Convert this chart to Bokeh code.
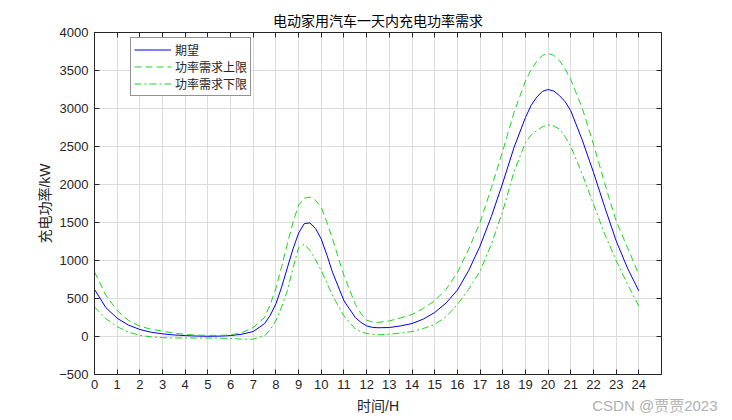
from bokeh.plotting import figure
from bokeh.models import (Range1d, LinearAxis, FixedTicker, Legend, LegendItem, Title,
                          CustomLabelingPolicy)
from bokeh.embed import file_html
from bokeh.resources import INLINE

# time in hours (finer steps where the curves bend)
hours = [0, 0.5, 1, 1.5, 2, 2.5, 3, 3.5, 4, 4.5, 5, 5.5, 6, 6.5, 7, 7.5, 7.75,
         8, 8.25, 8.5, 8.75, 9, 9.25, 9.5, 9.75, 10, 10.25, 10.5, 11, 11.5, 11.75,
         12, 12.25, 12.5, 13, 13.5, 14, 14.5, 15, 15.5, 16, 16.5, 17, 17.5, 18, 18.5,
         19, 19.25, 19.5, 19.75, 20, 20.25, 20.5, 20.75, 21, 21.5, 22, 22.5, 23, 23.5, 24]

expected = [620, 380, 240, 150, 92, 56, 35, 20, 12, 6, 3, 5, 12, 30, 65, 170, 280,
            430, 650, 900, 1150, 1360, 1485, 1495, 1420, 1280, 1070, 840, 470, 250, 185,
            140, 120, 115, 118, 140, 170, 230, 315, 440, 610, 870, 1190, 1580, 2020, 2490,
            2880, 3040, 3150, 3225, 3250, 3230, 3170, 3090, 2970, 2590, 2160, 1700, 1260, 900, 600]

upper = [850, 545, 340, 212, 135, 95, 70, 45, 28, 18, 15, 15, 20, 50, 118, 250, 420,
         640, 920, 1215, 1500, 1730, 1820, 1835, 1790, 1700, 1500, 1280, 800, 425, 300,
         215, 190, 185, 205, 245, 290, 370, 470, 620, 840, 1150, 1500, 1960, 2440, 2950,
         3360, 3510, 3620, 3700, 3725, 3700, 3630, 3520, 3380, 3010, 2530, 2010, 1520, 1170, 820]

lower = [390, 235, 128, 57, 15, -5, -15, -20, -20, -20, -20, -22, -25, -35, -35, 10, 90,
         210, 390, 600, 900, 1170, 1215, 1130, 1010, 865, 700, 535, 270, 100, 60,
         40, 28, 22, 30, 45, 65, 105, 160, 260, 420, 620, 860, 1215, 1650, 2170,
         2550, 2650, 2710, 2760, 2785, 2770, 2730, 2630, 2500, 2140, 1740, 1345, 1000, 690, 400]

x_ticks = list(range(0, 25))
y_ticks = list(range(-500, 4001, 500))

title_text = "电动家用汽车一天内充电功率需求"
x_label = "时间/H"
y_label = "充电功率/kW"
series_names = ["期望", "功率需求上限", "功率需求下限"]
watermark = "CSDN @贾贾2023"

FONT = "'Liberation Sans', 'Noto Sans CJK SC', sans-serif"
AX = "#262626"

p = figure(frame_width=567, frame_height=342, output_backend="svg", toolbar_location=None,
           x_range=Range1d(0, 25), y_range=Range1d(-500, 4000),
           min_border_left=94, min_border_right=62, min_border_top=32, min_border_bottom=44,
           title=title_text, background_fill_color="white", border_fill_color="white")

p.title.align = "center"
p.title.text_font = FONT
p.title.text_font_size = "14px"
p.title.text_font_style = "normal"
p.title.text_color = "black"
p.title.offset = 0
p.title.standoff = 0

p.outline_line_color = AX
p.outline_line_width = 1

for ax in (p.xaxis[0], p.yaxis[0]):
    ax.major_tick_in = 5
    ax.major_tick_out = 0
    ax.minor_tick_in = 0
    ax.minor_tick_out = 0
    ax.axis_line_color = AX
    ax.major_tick_line_color = AX
    ax.major_label_text_color = AX
    ax.major_label_text_font = FONT
    ax.major_label_text_font_size = "13px"
    ax.axis_label_text_font = FONT
    ax.axis_label_text_font_size = "14px"
    ax.axis_label_text_font_style = "normal"
    ax.axis_label_text_color = AX

p.xaxis[0].ticker = FixedTicker(ticks=x_ticks)
p.yaxis[0].ticker = FixedTicker(ticks=y_ticks)
p.xaxis[0].axis_label = x_label
p.yaxis[0].axis_label = y_label
p.xaxis[0].major_label_standoff = 5
p.yaxis[0].major_label_standoff = 6
p.xaxis[0].axis_label_standoff = 6
p.yaxis[0].axis_label_standoff = 3

# box ticks on top/right (MATLAB style), without labels
hide_all = CustomLabelingPolicy(code="for (const i of [...indices]) { indices.unset(i) }; return indices;")
for loc, tk in (("above", x_ticks), ("right", y_ticks)):
    a = LinearAxis(ticker=FixedTicker(ticks=tk), major_tick_in=5, major_tick_out=0,
                   minor_tick_in=0, minor_tick_out=0, axis_line_color=AX,
                   major_tick_line_color=AX, major_label_policy=hide_all,
                   major_label_text_font_size="1px", major_label_standoff=0)
    p.add_layout(a, loc)

p.xgrid.ticker = FixedTicker(ticks=x_ticks)
p.ygrid.ticker = FixedTicker(ticks=y_ticks)
p.grid.grid_line_color = "#dcdcdc"
p.grid.grid_line_width = 1

r1 = p.line(hours, expected, line_color="#0000ee", line_width=1)
r2 = p.line(hours, upper, line_color="#1ed41e", line_width=1, line_dash="7 4")
r3 = p.line(hours, lower, line_color="#1ed41e", line_width=1, line_dash="7 3 2 3")

legend = Legend(items=[LegendItem(label=series_names[0], renderers=[r1]),
                       LegendItem(label=series_names[1], renderers=[r2]),
                       LegendItem(label=series_names[2], renderers=[r3])],
                location=(36, 278))
legend.border_line_color = AX
legend.border_line_width = 1
legend.background_fill_color = "white"
legend.background_fill_alpha = 1
legend.label_text_font = FONT
legend.label_text_font_size = "12px"
legend.label_text_color = AX
legend.glyph_width = 37
legend.glyph_height = 17
legend.label_height = 17
legend.spacing = 0
legend.padding = 3
legend.margin = 0
legend.label_standoff = 4
p.add_layout(legend)

# watermark in the bottom border (a Title, so it is not clipped to the frame)
wm = Title(text=watermark, align="right", vertical_align="top", offset=-56, standoff=-40,
           text_font=FONT, text_font_size="15px", text_font_style="normal",
           text_color="#b0b0b0")
p.add_layout(wm, "below")

open("out.html", "w").write(file_html(p, INLINE))
